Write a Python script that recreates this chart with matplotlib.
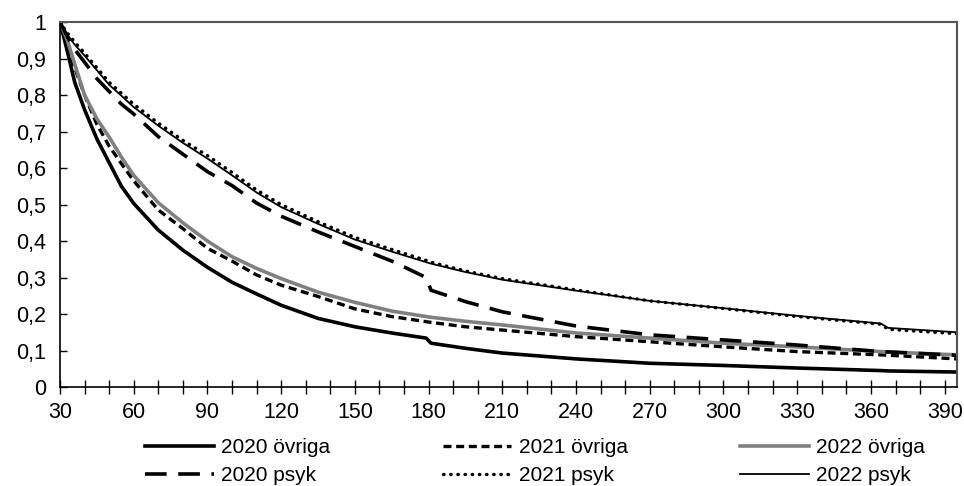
import matplotlib
matplotlib.use('Agg')
import matplotlib.pyplot as plt
from matplotlib.ticker import MultipleLocator, FuncFormatter

plt.rcParams['font.family'] = ['Liberation Sans', 'DejaVu Sans']
plt.rcParams['font.size'] = 15

# days since start (shared grid for all series)
days = [30, 33, 36, 40, 45, 50, 55, 60, 70, 80, 90, 100, 110, 120, 135, 150,
        165, 179, 181, 195, 210, 240, 270, 300, 330, 364, 367, 395]

ovr_2020 = [1.0, 0.92, 0.835, 0.76, 0.68, 0.615, 0.55, 0.503, 0.43, 0.375, 0.328,
            0.287, 0.255, 0.224, 0.188, 0.165, 0.148, 0.134, 0.120, 0.106, 0.093,
            0.077, 0.065, 0.059, 0.052, 0.045, 0.044, 0.041]
ovr_2021 = [1.0, 0.94, 0.875, 0.80, 0.72, 0.66, 0.612, 0.565, 0.485, 0.434, 0.38,
            0.345, 0.307, 0.279, 0.248, 0.214, 0.193, 0.179, 0.177, 0.165, 0.156,
            0.138, 0.124, 0.110, 0.097, 0.088, 0.087, 0.077]
ovr_2022 = [1.0, 0.95, 0.885, 0.80, 0.735, 0.685, 0.63, 0.58, 0.505, 0.45, 0.40,
            0.357, 0.325, 0.297, 0.26, 0.232, 0.208, 0.193, 0.191, 0.18, 0.17,
            0.148, 0.134, 0.12, 0.11, 0.097, 0.096, 0.088]
psyk_2020 = [1.0, 0.96, 0.925, 0.89, 0.845, 0.81, 0.775, 0.748, 0.686, 0.638, 0.59,
             0.552, 0.504, 0.468, 0.425, 0.385, 0.345, 0.30, 0.265, 0.234, 0.206,
             0.167, 0.143, 0.129, 0.115, 0.097, 0.096, 0.087]
psyk_2021 = [1.0, 0.97, 0.945, 0.915, 0.875, 0.835, 0.805, 0.775, 0.723, 0.676, 0.634,
             0.588, 0.54, 0.50, 0.453, 0.41, 0.377, 0.347, 0.342, 0.318, 0.297,
             0.266, 0.236, 0.215, 0.193, 0.172, 0.158, 0.146]
psyk_2022 = [1.0, 0.965, 0.938, 0.908, 0.868, 0.828, 0.798, 0.767, 0.716, 0.669, 0.626,
             0.58, 0.533, 0.493, 0.447, 0.404, 0.371, 0.342, 0.338, 0.315, 0.294,
             0.264, 0.236, 0.216, 0.195, 0.174, 0.162, 0.150]

fig = plt.figure(figsize=(9.64, 4.86), dpi=100)
ax = fig.add_axes([0.0622, 0.2037, 0.9305, 0.751])

l1, = ax.plot(days, ovr_2020, color='black', lw=2.6, label='2020 övriga')
l2, = ax.plot(days, ovr_2021, color='black', lw=2.4, dashes=(2.4, 1.4), label='2021 övriga')
l3, = ax.plot(days, ovr_2022, color='#808080', lw=2.6, label='2022 övriga')
l4, = ax.plot(days, psyk_2020, color='black', lw=2.6, dashes=(6.0, 3.2), label='2020 psyk')
l5, = ax.plot(days, psyk_2021, color='black', lw=2.4, dashes=(0.15, 2.0),
              dash_capstyle='round', label='2021 psyk')
l6, = ax.plot(days, psyk_2022, color='black', lw=1.3, label='2022 psyk')

ax.set_xlim(30, 395)
ax.set_ylim(0, 1)
ax.xaxis.set_major_locator(MultipleLocator(30))
ax.xaxis.set_minor_locator(MultipleLocator(10))
ax.yaxis.set_major_locator(MultipleLocator(0.1))
ax.yaxis.set_major_formatter(FuncFormatter(
    lambda v, p: '0' if abs(v) < 1e-9 else ('1' if abs(v - 1) < 1e-9 else f'{v:.1f}'.replace('.', ','))))

ax.tick_params(axis='x', which='both', direction='inout', length=9.5, width=1, pad=6, labelsize=15.5)
ax.tick_params(axis='y', direction='in', length=5, width=1, pad=10, labelsize=15.5)

for s in ['left', 'bottom']:
    ax.spines[s].set_color('black')
    ax.spines[s].set_linewidth(1.2)
for s in ['top', 'right']:
    ax.spines[s].set_color('#555555')
    ax.spines[s].set_linewidth(1.5)

# row-wise legend order
fig.legend([l1, l4, l2, l5, l3, l6],
           ['2020 övriga', '2020 psyk', '2021 övriga', '2021 psyk', '2022 övriga', '2022 psyk'],
           loc='center', ncol=3, bbox_to_anchor=(0.555, 0.05),
           frameon=False, handlelength=3.3, handletextpad=0.35, columnspacing=5.4,
           labelspacing=0.42, borderpad=0)

fig.savefig('out.png', dpi=100)
